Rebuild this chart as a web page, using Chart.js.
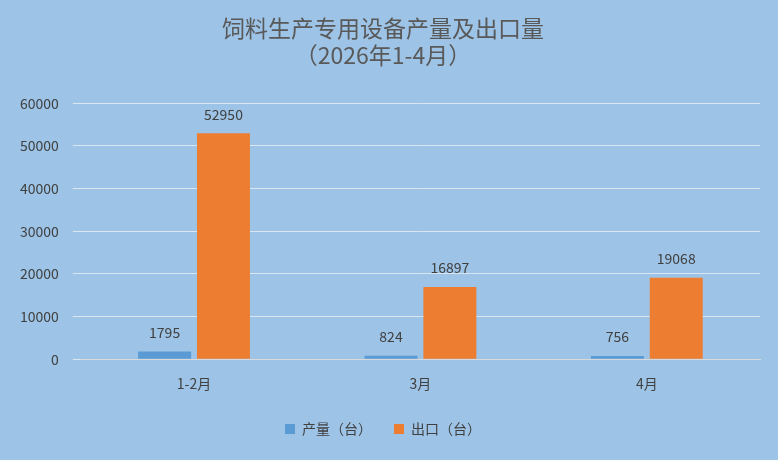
<!DOCTYPE html>
<html><head><meta charset="utf-8">
<script src="https://cdn.jsdelivr.net/npm/chart.js@4"></script>
<style>html,body{margin:0;padding:0;background:#9DC3E6;}#w{width:778px;height:460px;}</style>
</head><body><div id="w"><canvas id="c" width="778" height="460"></canvas></div>
<script>
const categories = ['1-2月','3月','4月'];
const production = [1795, 824, 756];
const exportsData = [52950, 16897, 19068];
const yTicks = [0,10000,20000,30000,40000,50000,60000];
const font = "'Microsoft YaHei','Noto Sans CJK SC',sans-serif";
const labels = {
  id:'labels',
  afterDatasetsDraw(chart){
    const ctx = chart.ctx;
    ctx.save();
    ctx.font = "14px " + font;
    ctx.fillStyle = '#404040';
    ctx.textAlign = 'center';
    ctx.textBaseline = 'bottom';
    chart.data.datasets.forEach((ds,i)=>{
      chart.getDatasetMeta(i).data.forEach((b,j)=>{
        ctx.fillText(ds.data[j], b.x, b.y - 12);
      });
    });
    ctx.restore();
  }
};
new Chart(document.getElementById('c'), {
  type:'bar',
  data:{labels:categories, datasets:[
    {label:'产量（台）', data:production, backgroundColor:'#5B9BD5', categoryPercentage:0.52, barPercentage:0.9},
    {label:'出口（台）', data:exportsData, backgroundColor:'#ED7D31', categoryPercentage:0.52, barPercentage:0.9}
  ]},
  options:{
    responsive:false, animation:false,
    layout:{padding:{left:6,right:18,top:0,bottom:14}},
    plugins:{
      title:{display:true, text:['饲料生产专用设备产量及出口量','（2026年1-4月）'], color:'#595959', font:{family:font,size:23,weight:'normal'}, padding:{top:14,bottom:34}, lineHeight:1.45},
      legend:{position:'bottom', labels:{color:'#404040', font:{family:font,size:14}, boxWidth:10, boxHeight:10, padding:22}},
      tooltip:{enabled:false}
    },
    scales:{
      x:{grid:{display:false}, border:{color:'#D9D9D9'}, ticks:{color:'#404040', font:{family:font,size:14}, padding:8}},
      y:{min:0,max:60000, afterBuildTicks(a){a.ticks=yTicks.map(v=>({value:v}));},
         grid:{color:'#D9E6F2'}, border:{display:false},
         ticks:{color:'#404040', font:{family:font,size:14}, padding:14, callback:v=>String(v)}}
    }
  },
  plugins:[labels]
});
</script></body></html>
